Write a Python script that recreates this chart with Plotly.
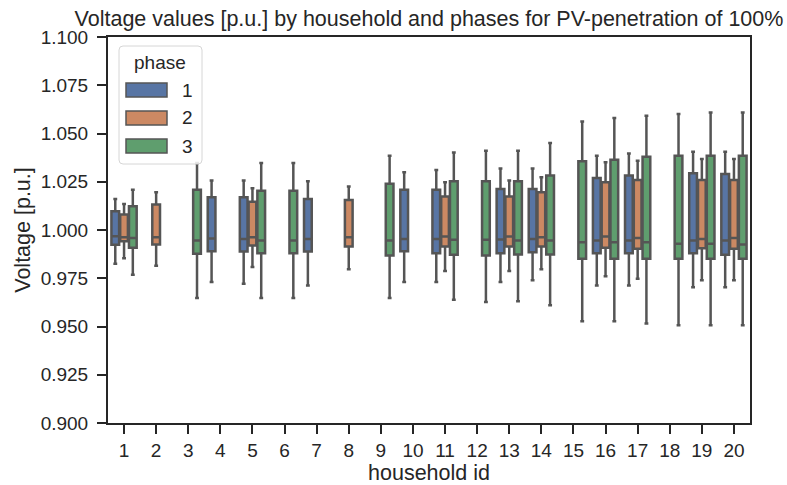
import plotly.graph_objects as go

# ---- data -------------------------------------------------------------
households = [str(i) for i in range(1, 21)]
phases = ["1", "2", "3"]
phase_colors = ["#5875A4", "#CC8963", "#5F9E6E"]

# phase 1
p1_ids = [1, 4, 5, 7, 10, 11, 13, 14, 16, 17, 19, 20]
p1_low = [0.9825, 0.9730, 0.9722, 0.9713, 0.9730, 0.9730, 0.9730, 0.9739, 0.9713, 0.9713, 0.9704, 0.9704]
p1_q1 = [0.9924, 0.9890, 0.9889, 0.9889, 0.9890, 0.9880, 0.9880, 0.9885, 0.9880, 0.9880, 0.9880, 0.9872]
p1_med = [0.9968, 0.9956, 0.9954, 0.9954, 0.9954, 0.9954, 0.9951, 0.9954, 0.9946, 0.9946, 0.9946, 0.9946]
p1_q3 = [1.0097, 1.0170, 1.0170, 1.0161, 1.0208, 1.0208, 1.0213, 1.0213, 1.0270, 1.0282, 1.0294, 1.0290]
p1_high = [1.0161, 1.0256, 1.0256, 1.0252, 1.0299, 1.0311, 1.0319, 1.0319, 1.0385, 1.0397, 1.0406, 1.0406]

# phase 2
p2_ids = [1, 2, 5, 8, 11, 13, 14, 16, 17, 19, 20]
p2_low = [0.9854, 0.9815, 0.9808, 0.9797, 0.9787, 0.9787, 0.9796, 0.9760, 0.9748, 0.9739, 0.9739]
p2_q1 = [0.9942, 0.9925, 0.9920, 0.9915, 0.9915, 0.9915, 0.9915, 0.9908, 0.9903, 0.9906, 0.9903]
p2_med = [0.9963, 0.9963, 0.9963, 0.9963, 0.9966, 0.9966, 0.9963, 0.9966, 0.9958, 0.9954, 0.9958]
p2_q3 = [1.0080, 1.0132, 1.0147, 1.0156, 1.0173, 1.0173, 1.0195, 1.0247, 1.0259, 1.0259, 1.0259]
p2_high = [1.0135, 1.0195, 1.0216, 1.0225, 1.0247, 1.0256, 1.0273, 1.0351, 1.0359, 1.0368, 1.0368]

# phase 3
p3_ids = [1, 3, 5, 6, 9, 11, 12, 13, 14, 15, 16, 17, 18, 19, 20]
p3_low = [0.9768, 0.9648, 0.9648, 0.9648, 0.9648, 0.9639, 0.9627, 0.9631, 0.9610, 0.9527, 0.9527, 0.9515, 0.9506, 0.9506, 0.9506]
p3_q1 = [0.9908, 0.9877, 0.9880, 0.9880, 0.9868, 0.9872, 0.9868, 0.9873, 0.9873, 0.9851, 0.9851, 0.9851, 0.9851, 0.9851, 0.9851]
p3_med = [0.9958, 0.9946, 0.9946, 0.9946, 0.9946, 0.9949, 0.9949, 0.9946, 0.9946, 0.9937, 0.9937, 0.9937, 0.9929, 0.9929, 0.9925]
p3_q3 = [1.0123, 1.0208, 1.0204, 1.0204, 1.0239, 1.0252, 1.0252, 1.0252, 1.0282, 1.0356, 1.0364, 1.0380, 1.0385, 1.0385, 1.0385]
p3_high = [1.0208, 1.0347, 1.0347, 1.0347, 1.0385, 1.0402, 1.0411, 1.0411, 1.0451, 1.0562, 1.0580, 1.0592, 1.0601, 1.0609, 1.0609]

y_ticks = [0.900, 0.925, 0.950, 0.975, 1.000, 1.025, 1.050, 1.075, 1.100]

series = [
    (p1_ids, p1_low, p1_q1, p1_med, p1_q3, p1_high),
    (p2_ids, p2_low, p2_q1, p2_med, p2_q3, p2_high),
    (p3_ids, p3_low, p3_q1, p3_med, p3_q3, p3_high),
]

# ---- figure -----------------------------------------------------------
W, H = 787, 485
ML, MR, MT, MB = 108, 37, 37, 62
PW, PH = W - ML - MR, H - MT - MB
TEXT = "#262626"
LINE = "#555555"
FONT = "Liberation Sans, Arial, sans-serif"
TICK_SIZE = 19
LABEL_SIZE = 21.5

fig = go.Figure()
for name, color, (ids, low, q1, med, q3, high) in zip(phases, phase_colors, series):
    fig.add_trace(go.Box(
        name=name,
        x=[str(i) for i in ids],
        lowerfence=low, q1=q1, median=med, q3=q3, upperfence=high,
        fillcolor=color,
        line=dict(color=LINE, width=2.5),
        whiskerwidth=0.5,
        boxpoints=False,
        showlegend=False,
        hoverinfo="skip",
    ))


def px(xp):
    return (xp - ML) / PW


def py(yp):
    return (H - MB - yp) / PH


# legend drawn as a framed panel in the upper-left of the axes
shapes = []
annotations = []
lx0, lx1, ly0, ly1, r = 119, 202, 46, 164, 4
path = (f"M {px(lx0 + r)},{py(ly0)} L {px(lx1 - r)},{py(ly0)} "
        f"Q {px(lx1)},{py(ly0)} {px(lx1)},{py(ly0 + r)} "
        f"L {px(lx1)},{py(ly1 - r)} Q {px(lx1)},{py(ly1)} {px(lx1 - r)},{py(ly1)} "
        f"L {px(lx0 + r)},{py(ly1)} Q {px(lx0)},{py(ly1)} {px(lx0)},{py(ly1 - r)} "
        f"L {px(lx0)},{py(ly0 + r)} Q {px(lx0)},{py(ly0)} {px(lx0 + r)},{py(ly0)} Z")
shapes.append(dict(type="path", xref="paper", yref="paper", path=path,
                   fillcolor="rgba(255,255,255,0.85)", line=dict(color="#d6d6d6", width=1),
                   layer="above"))
annotations.append(dict(text="phase", xref="paper", yref="paper", x=px(160), y=py(62),
                        showarrow=False, xanchor="center", yanchor="middle",
                        font=dict(size=TICK_SIZE, color=TEXT, family=FONT)))
for k, (name, color) in enumerate(zip(phases, phase_colors)):
    cy = 90 + 28 * k
    shapes.append(dict(type="rect", xref="paper", yref="paper",
                       x0=px(126), x1=px(167), y0=py(cy - 7), y1=py(cy + 7),
                       fillcolor=color, line=dict(color=LINE, width=1.5), layer="above"))
    annotations.append(dict(text=name, xref="paper", yref="paper", x=px(187), y=py(cy),
                            showarrow=False, xanchor="center", yanchor="middle",
                            font=dict(size=TICK_SIZE, color=TEXT, family=FONT)))

fig.update_layout(
    width=W, height=H,
    margin=dict(l=ML, r=MR, t=MT, b=MB, autoexpand=False),
    paper_bgcolor="white", plot_bgcolor="white",
    boxmode="group", boxgap=0.18, boxgroupgap=0.12,
    font=dict(family=FONT, color=TEXT, size=TICK_SIZE),
    title=dict(text="Voltage values [p.u.] by household and phases for PV-penetration of 100%",
               x=(ML + PW / 2) / W, xanchor="center", y=1 - 18 / H, yanchor="middle",
               font=dict(size=LABEL_SIZE, color=TEXT, family=FONT)),
    shapes=shapes, annotations=annotations,
    showlegend=False,
)
fig.update_xaxes(
    type="category", categoryorder="array", categoryarray=households,
    range=[-0.5, 19.5], automargin=False,
    showline=True, mirror=True, linecolor=TEXT, linewidth=2,
    ticks="outside", ticklen=9, tickwidth=2, tickcolor=TEXT,
    ticklabelstandoff=0,
    showgrid=False, zeroline=False,
    tickfont=dict(size=TICK_SIZE, color=TEXT, family=FONT),
    title=dict(text="household id", standoff=0, font=dict(size=LABEL_SIZE, color=TEXT, family=FONT)),
)
fig.update_yaxes(
    range=[0.9, 1.1], tickvals=y_ticks, tickformat=".3f", automargin=False,
    showline=True, mirror=True, linecolor=TEXT, linewidth=2,
    ticks="outside", ticklen=9, tickwidth=2, tickcolor=TEXT,
    ticklabelstandoff=5,
    showgrid=False, zeroline=False,
    tickfont=dict(size=TICK_SIZE, color=TEXT, family=FONT),
    title=dict(text="Voltage [p.u.]", standoff=4, font=dict(size=LABEL_SIZE, color=TEXT, family=FONT)),
)

fig.write_html("out.html")
